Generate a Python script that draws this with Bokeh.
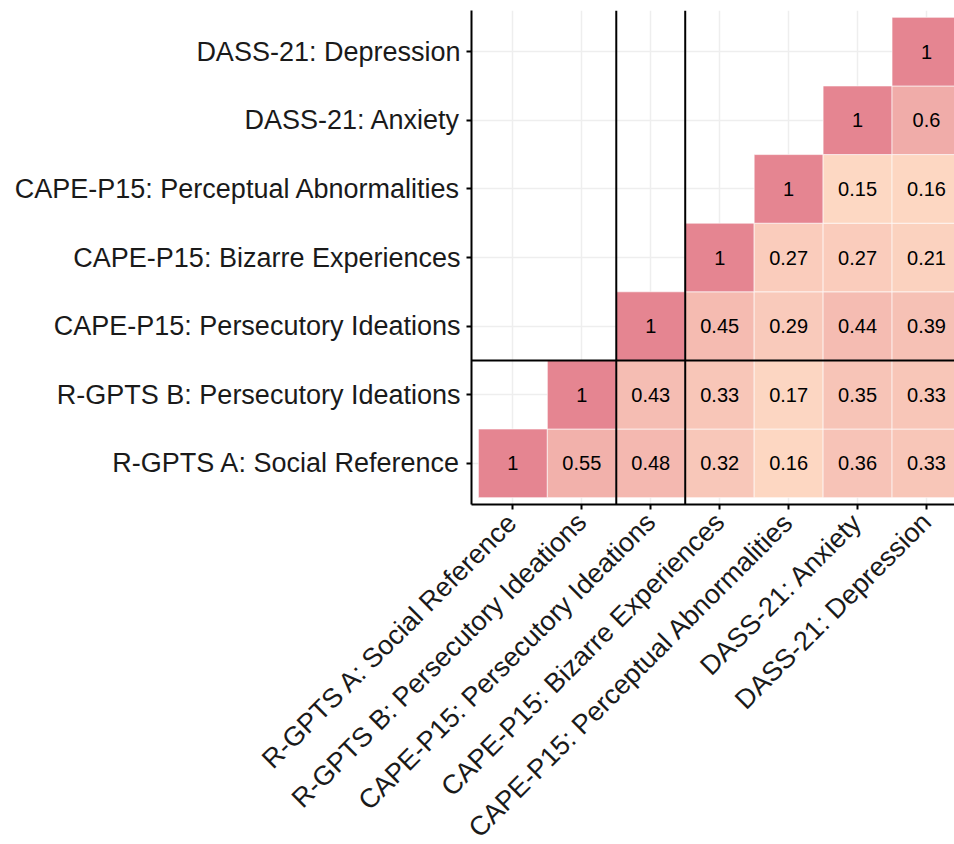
import numpy as np
from bokeh.plotting import figure
from bokeh.models import (ColumnDataSource, Range1d, FixedTicker, LinearColorMapper, Span)
from bokeh.transform import transform
from bokeh.core.properties import value
from bokeh.embed import file_html
from bokeh.resources import INLINE

# ---- data ----
variables = [
    "R-GPTS A: Social Reference",
    "R-GPTS B: Persecutory Ideations",
    "CAPE-P15: Persecutory Ideations",
    "CAPE-P15: Bizarre Experiences",
    "CAPE-P15: Perceptual Abnormalities",
    "DASS-21: Anxiety",
    "DASS-21: Depression",
]
# upper-triangle rows: row i holds correlations of variable i with variables i..6
row_rga = [1, 0.55, 0.48, 0.32, 0.16, 0.36, 0.33]
row_rgb = [1, 0.43, 0.33, 0.17, 0.35, 0.33]
row_cpi = [1, 0.45, 0.29, 0.44, 0.39]
row_cbe = [1, 0.27, 0.27, 0.21]
row_cpa = [1, 0.15, 0.16]
row_anx = [1, 0.6]
row_dep = [1]
rows = [row_rga, row_rgb, row_cpi, row_cbe, row_cpa, row_anx, row_dep]

xs, ys, vals, labels = [], [], [], []
for i, row in enumerate(rows):
    for k, v in enumerate(row):
        xs.append(i + k + 1)
        ys.append(i + 1)
        vals.append(v)
        labels.append(f"{v:g}")
src = ColumnDataSource(dict(x=xs, y=ys, v=vals, lab=labels))

# colour ramp (style)
def ramp(c0, c1, n=256):
    a = np.array([int(c0[i:i + 2], 16) for i in (1, 3, 5)], float)
    b = np.array([int(c1[i:i + 2], 16) for i in (1, 3, 5)], float)
    out = []
    for t in np.linspace(0, 1, n):
        c = a + (b - a) * t
        out.append("#%02x%02x%02x" % tuple(int(round(z)) for z in c))
    return out

mapper = LinearColorMapper(palette=ramp("#FDD8C3", "#E58591"), low=0.15, high=1.0)

FONT = "Liberation Sans"
p = figure(
    frame_width=483, frame_height=494,
    x_range=Range1d(0.4, 7.406), y_range=Range1d(0.4, 7.6),
    output_backend="svg", toolbar_location=None,
    min_border_left=471, min_border_top=10, min_border_right=0, min_border_bottom=0,
)
p.outline_line_color = None
p.background_fill_color = "white"

p.rect("x", "y", width=1, height=1, source=src,
       fill_color=transform("v", mapper), line_color="white", line_width=1, line_alpha=0.6)
p.text("x", "y", text="lab", source=src, text_align="center", text_baseline="middle",
       text_font=value(FONT), text_font_size="20px", text_color="#000000")

for xv in (2.5, 3.5):
    p.add_layout(Span(location=xv, dimension="height", line_color="black", line_width=2))
p.add_layout(Span(location=2.5, dimension="width", line_color="black", line_width=2))

ticks = list(range(1, len(variables) + 1))
for ax in (p.xaxis[0], p.yaxis[0]):
    ax.ticker = FixedTicker(ticks=ticks)
    ax.major_label_overrides = {t: variables[t - 1] for t in ticks}
    ax.major_label_text_font = FONT
    ax.major_label_text_font_size = "27px"
    ax.major_label_text_color = "#1A1A1A"
    ax.axis_line_color = "black"
    ax.axis_line_width = 2
    ax.major_tick_line_color = "black"
    ax.major_tick_line_width = 2
    ax.major_tick_out = 5
    ax.major_tick_in = 0
    ax.minor_tick_line_color = None
p.yaxis.major_label_standoff = 6
p.xaxis.major_label_standoff = 8
p.xaxis.major_label_orientation = np.pi / 4

p.xgrid.ticker = FixedTicker(ticks=ticks)
p.ygrid.ticker = FixedTicker(ticks=ticks)
p.grid.grid_line_color = "#EEEEEE"
p.grid.grid_line_width = 1.5

open("out.html", "w").write(file_html(p, INLINE))
